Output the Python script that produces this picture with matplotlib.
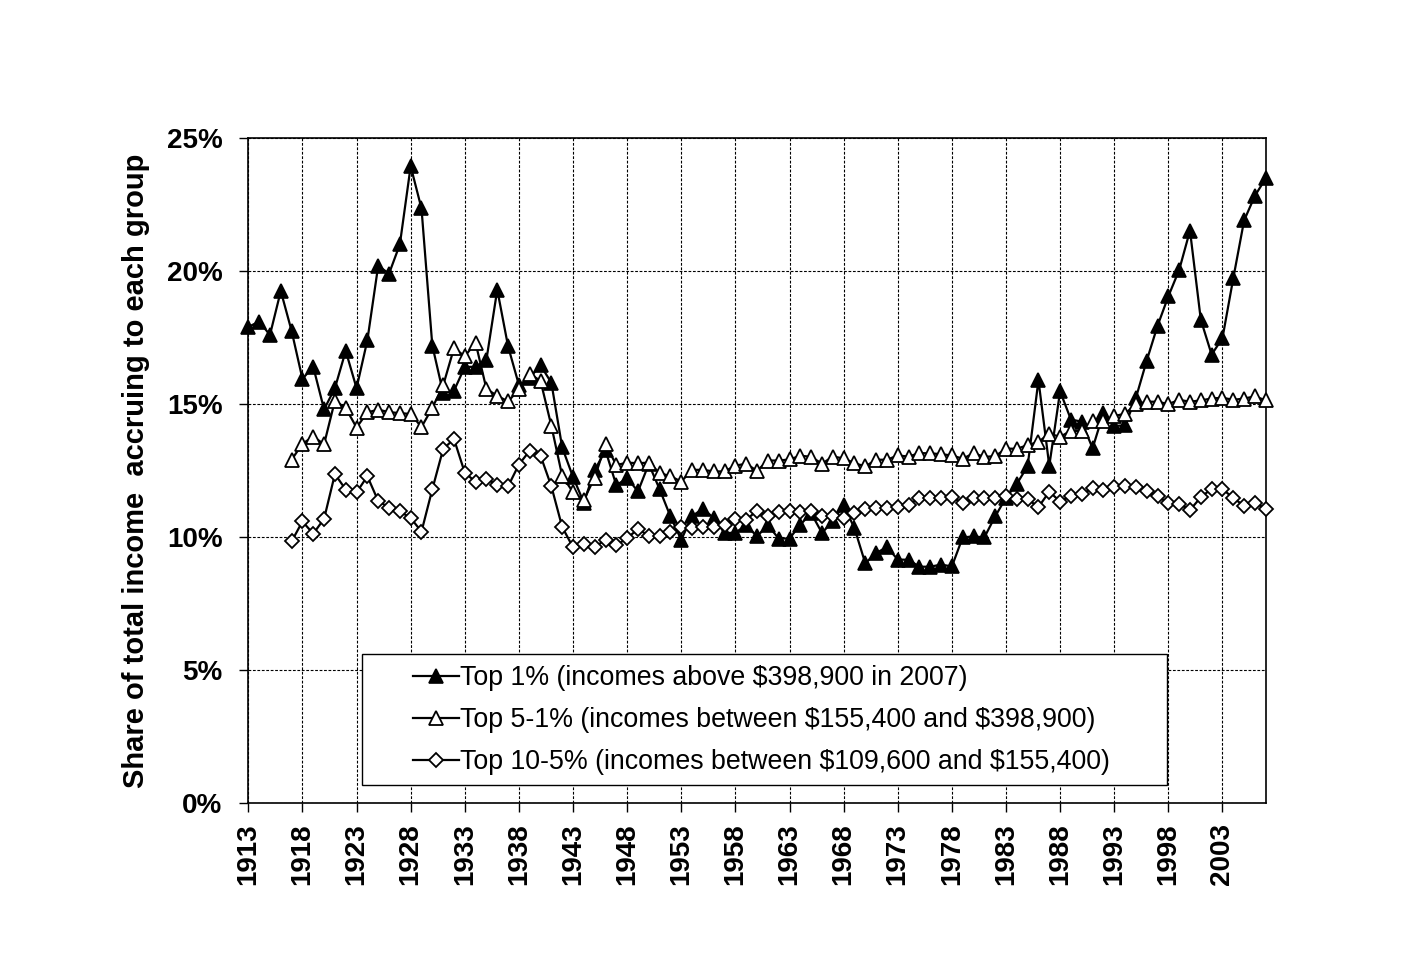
import numpy as np
import matplotlib
matplotlib.use("Agg")
import matplotlib.pyplot as plt
from matplotlib.patches import Rectangle
from matplotlib.ticker import FuncFormatter

plt.rcParams['font.family'] = ['Liberation Sans', 'DejaVu Sans']

# dados (% da renda total)
anos_top1 = list(range(1913, 2008))
top1 = [17.9, 18.1, 17.6, 19.25, 17.75, 15.95, 16.4, 14.8, 15.6, 17.0,
        15.6, 17.4, 20.2, 19.9, 21.0, 23.94, 22.35, 17.2, 15.42, 15.5,
        16.4, 16.4, 16.67, 19.3, 17.17, 15.72, 15.99, 16.46, 15.8, 13.37,
        12.26, 11.3, 12.52, 13.26, 11.95, 12.22, 11.72, 12.75, 11.8, 10.78,
        9.9, 10.79, 11.07, 10.72, 10.15, 10.17, 10.45, 10.03, 10.45, 9.95,
        9.95, 10.47, 10.9, 10.16, 10.6, 11.2, 10.34, 9.02, 9.4, 9.63,
        9.16, 9.15, 8.89, 8.89, 8.97, 8.9, 9.99, 10.03, 9.99, 10.78,
        11.48, 12.0, 12.67, 15.9, 12.68, 15.48, 14.42, 14.34, 13.34, 14.66,
        14.18, 14.2, 15.23, 16.63, 17.94, 19.05, 20.04, 21.52, 18.17, 16.86,
        17.48, 19.73, 21.9, 22.83, 23.48]

anos = list(range(1917, 2008))
top5_1 = [12.91, 13.51, 13.78, 13.49, 15.13, 14.85, 14.12, 14.69, 14.79, 14.7,
          14.66, 14.63, 14.14, 14.86, 15.7, 17.1, 16.8, 17.3, 15.57, 15.31,
          15.1, 15.55, 16.14, 15.87, 14.18, 12.3, 11.69, 11.4, 12.24, 13.49,
          12.71, 12.8, 12.78, 12.8, 12.41, 12.29, 12.09, 12.53, 12.53, 12.47,
          12.47, 12.69, 12.76, 12.49, 12.88, 12.88, 12.92, 13.06, 13.02, 12.76,
          13.03, 12.96, 12.78, 12.66, 12.91, 12.91, 13.07, 13.03, 13.16, 13.15,
          13.12, 13.07, 12.95, 13.15, 13.02, 13.04, 13.33, 13.32, 13.46, 13.58,
          13.89, 13.77, 14.0, 13.98, 14.36, 14.35, 14.55, 14.64, 14.99, 15.09,
          15.09, 15.0, 15.16, 15.09, 15.14, 15.21, 15.24, 15.16, 15.21, 15.29,
          15.14]
top10_5 = [9.84, 10.59, 10.13, 10.69, 12.37, 11.79, 11.68, 12.29, 11.36, 11.11,
           10.97, 10.72, 10.21, 11.8, 13.31, 13.69, 12.42, 12.08, 12.2, 11.95,
           11.91, 12.73, 13.25, 13.06, 11.91, 10.38, 9.62, 9.75, 9.62, 9.91,
           9.69, 9.97, 10.3, 10.06, 10.06, 10.18, 10.38, 10.34, 10.4, 10.38,
           10.46, 10.68, 10.65, 11.0, 10.78, 10.96, 11.0, 10.95, 11.0, 10.81,
           10.78, 10.71, 10.9, 11.05, 11.09, 11.09, 11.13, 11.22, 11.47, 11.47,
           11.47, 11.5, 11.28, 11.46, 11.49, 11.49, 11.56, 11.43, 11.43, 11.13,
           11.71, 11.34, 11.55, 11.61, 11.84, 11.78, 11.88, 11.94, 11.9, 11.73,
           11.53, 11.29, 11.26, 11.02, 11.5, 11.82, 11.81, 11.47, 11.18, 11.29,
           11.07]

rotulos = [r"Top 1% (incomes above \$398,900 in 2007)",
           r"Top 5-1% (incomes between \$155,400 and \$398,900)",
           r"Top 10-5% (incomes between \$109,600 and \$155,400)"]

fig = plt.figure(figsize=(14.23, 9.73), dpi=100)
ax = fig.add_axes([0.1745, 0.1744, 0.7150, 0.6838])

ax.plot(anos_top1, top1, color='black', lw=1.6, marker='^', ms=10,
        mfc='black', mec='black', mew=1.2, label=rotulos[0], zorder=3, clip_on=False)
ax.plot(anos, top5_1, color='black', lw=1.6, marker='^', ms=10,
        mfc='white', mec='black', mew=1.3, label=rotulos[1], zorder=4, clip_on=False)
ax.plot(anos, top10_5, color='black', lw=1.6, marker='D', ms=7.2,
        mfc='white', mec='black', mew=1.3, label=rotulos[2], zorder=5, clip_on=False)

ax.set_xlim(1913, 2007)
ax.set_ylim(0, 25)
ax.set_xticks(range(1913, 2007, 5))
ax.set_yticks(range(0, 26, 5))
ax.yaxis.set_major_formatter(FuncFormatter(lambda v, p: f"{int(v)}%"))
ax.tick_params(axis='x', labelrotation=90, direction='out', length=6.5,
               width=1, labelsize=20, pad=8)
ax.tick_params(axis='y', direction='out', length=6.5, width=1, labelsize=20, pad=12)
for lab in ax.get_xticklabels() + ax.get_yticklabels():
    lab.set_fontweight('bold')

ax.grid(True, color='black', linestyle=(0, (2.5, 1.5)), lw=0.8)
ax.set_axisbelow(True)
for s in ax.spines.values():
    s.set_linewidth(1.2)

ax.set_ylabel("Share of total income  accruing to each group", fontsize=21,
              fontweight='bold', labelpad=12)

# caixa da legenda desenhada à parte para controlar o espaçamento
caixa = Rectangle((362 / 1423, 1 - 785 / 973), 805 / 1423, 131 / 973,
                  transform=fig.transFigure, facecolor='white',
                  edgecolor='black', lw=1.0, zorder=6)
ax.add_patch(caixa)
caixa.set_clip_on(False)

leg = ax.legend(loc='upper left', bbox_to_anchor=(413 / 1423, 1 - 665 / 973),
                bbox_transform=fig.transFigure, fontsize=19.3, frameon=False,
                numpoints=1, handlelength=1.7, handletextpad=0.05,
                borderpad=0, labelspacing=0.6, borderaxespad=0)
leg.set_zorder(7)

fig.savefig("out.png", dpi=100)
